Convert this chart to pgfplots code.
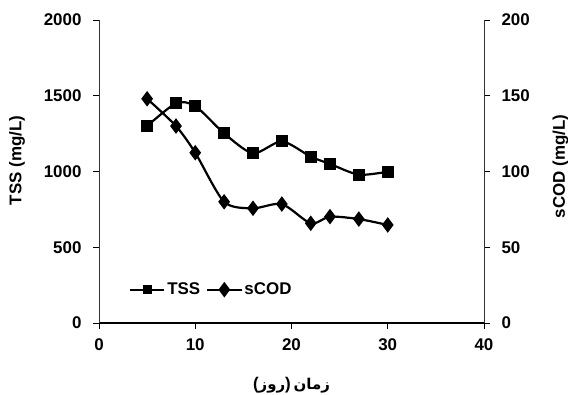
\documentclass[border=0pt]{standalone}
\usepackage{pgfplots}
\pgfplotsset{compat=1.18}
\usepackage{fontspec}
\setmainfont{Liberation Sans}
\newfontfamily\arabicfont[Script=Arabic]{DejaVu Sans}
\TeXXeTstate=1
\begin{document}
\begin{tikzpicture}[x=1bp,y=1bp]
\pgfplotsset{
  base/.style={
    width=385bp, height=303bp, scale only axis,
    xmin=0, xmax=40,
    tick label style={font=\fontsize{17}{19}\selectfont\bfseries},
    label style={font=\fontsize{17}{19}\selectfont\bfseries},
    /pgf/number format/assume math mode=true,
    /pgf/number format/1000 sep={},
    tick align=outside,
    major tick length=6bp,
    tick style={black, line width=0.8bp},
    legend image code/.code={\draw[mark repeat=2,mark phase=2] plot coordinates {(0bp,0bp)(17bp,0bp)(34bp,0bp)};},
  }
}
\begin{axis}[base,
  axis x line*=bottom, axis y line*=left,
  x axis line style={line width=1.6bp, black, -},
  y axis line style={line width=0.8bp, black!80, -},
  ymin=0, ymax=2000, ytick={0,500,...,2000},
  xtick={0,10,20,30,40},
  xticklabel style={yshift=-6bp},
  yticklabel style={xshift=-8bp},
  ylabel={TSS (mg/L)},
  ylabel style={yshift=12bp, xshift=11bp},
  xlabel={({\arabicfont\bfseries\fontsize{15}{17}\selectfont\beginR روز\endR})\,{\arabicfont\bfseries\fontsize{15}{17}\selectfont\beginR زمان\endR}},
  xlabel style={yshift=-20bp},
]
\addplot[black, line width=2.2bp, smooth, tension=0.45, mark=square*, mark size=4.8bp, mark options={solid}]
coordinates {(5,1300) (8,1450) (10,1432) (13,1252) (16,1120) (19,1199) (22,1098) (24,1050) (27,979) (30,999)};
\end{axis}
\begin{axis}[base,
  axis x line=none, axis y line*=right,
  y axis line style={line width=0.8bp, black!80, -},
  ymin=0, ymax=200, ytick={0,50,...,200},
  yticklabel style={xshift=8bp},
  ylabel={sCOD (mg/L)},
  ylabel style={yshift=-16bp, xshift=5bp},
  legend style={draw=none, fill=none, at={(rel axis cs:0.07,0.11)}, anchor=west,
    font=\fontsize{17}{19}\selectfont\bfseries, legend columns=2,
    /tikz/every even column/.append style={column sep=4bp}},
  legend cell align=left,
]
\addlegendimage{black, line width=2.2bp, mark=square*, mark size=3.2bp}
\addlegendentry{TSS}
\addplot[black, line width=2.2bp, smooth, tension=0.45, mark=diamond*, mark size=6bp, mark options={solid}]
coordinates {(5,148) (8,130) (10,112.4) (13,80) (16,75.7) (19,78.5) (22,65.8) (24,70.2) (27,68.6) (30,64.7)};
\addlegendentry{sCOD}
\coordinate (bl) at (rel axis cs:-0.2571,-0.2343);
\coordinate (tr) at (rel axis cs:1.2182,1.066);
\end{axis}
\pgfresetboundingbox
\path[use as bounding box] (bl) rectangle (tr);
\end{tikzpicture}
\end{document}
